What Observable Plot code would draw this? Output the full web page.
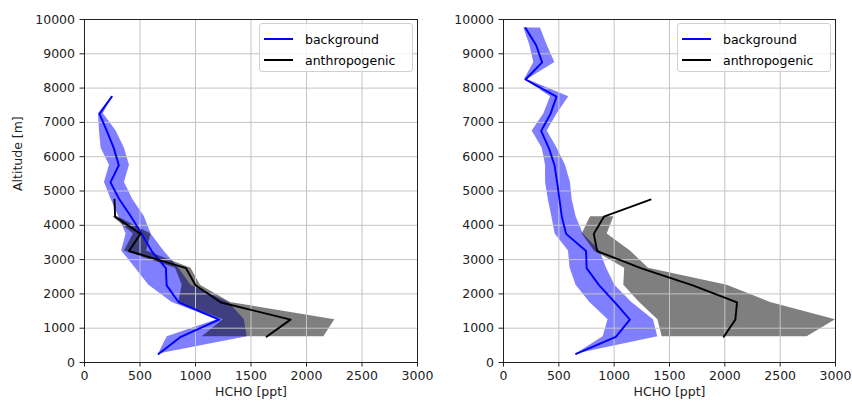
<!DOCTYPE html>
<html>
<head>
<meta charset="utf-8">
<script src="https://cdn.jsdelivr.net/npm/d3@7"></script>
<script src="https://cdn.jsdelivr.net/npm/@observablehq/plot@0.6"></script>
<style>
  body { margin: 0; background: #fff; }
  #chart { position: relative; width: 852px; height: 405px; font-family: "DejaVu Sans", sans-serif; }
  #chart > svg { position: absolute; top: 0; overflow: visible; }
  .legend { position: absolute; top: 23px; width: 154px; height: 49px; box-sizing: border-box;
            border: 1px solid #d0d0d0; border-radius: 3px; background: rgba(255,255,255,0.8);
            font-size: 12.5px; color: #000; }
  .legend .row { position: absolute; left: 4px; height: 16px; display: flex; align-items: center; white-space: nowrap; }
  .legend .swatch { width: 29px; height: 2px; margin-right: 12px; }
</style>
</head>
<body>
<div id="chart"></div>
<script>
// Altitude bins (m), centres of 500 m layers
const altBackgroundLeft = [250, 750, 1250, 1750, 2250, 2750, 3250, 3750, 4250, 4750, 5250, 5750, 6250, 6750, 7250, 7750];
const altBackgroundRight = [250, 750, 1250, 1750, 2250, 2750, 3250, 3750, 4250, 4750, 5250, 5750, 6250, 6750, 7250, 7750, 8250, 8750, 9250, 9750];
const altAnthro = [750, 1250, 1750, 2250, 2750, 3250, 3750, 4250, 4750];

// Left panel: HCHO (ppt)
const bgLeftMean = [667, 868, 1213, 850, 740, 733, 605, 515, 420, 315, 234, 309, 264, 201, 135, 246];
const bgLeftLow  = [667, 745, 1195, 790, 580, 460, 335, 375, 310, 240, 180, 225, 150, 135, 126, 246];
const bgLeftHigh = [667, 1466, 1440, 1300, 960, 850, 715, 600, 540, 435, 360, 405, 360, 285, 170, 246];
const anLeftMean = [1640, 1856, 1230, 1000, 915, 400, 505, 276, 270];
const anLeftLow  = [1060, 1250, 850, 880, 820, 360, 440, 255, null];
const anLeftHigh = [2156, 2255, 1315, 1045, 960, 560, 600, 300, null];

// Right panel: HCHO (ppt)
const bgRightMean = [656, 1015, 1142, 1006, 865, 751, 746, 566, 527, 506, 485, 461, 410, 340, 425, 479, 199, 349, 295, 199];
const bgRightLow  = [656, 900, 945, 781, 656, 602, 587, 467, 437, 405, 380, 380, 350, 259, 365, 425, 190, 274, 238, 184];
const bgRightHigh = [656, 1394, 1355, 1160, 1006, 931, 871, 721, 656, 620, 605, 560, 485, 395, 485, 590, 215, 464, 395, 334];
const anRightMean = [1990, 2095, 2110, 1710, 1240, 846, 816, 907, 1328];
const anRightLow  = [1434, 1395, 1230, 1087, 1095, 820, 711, 786, null];
const anRightHigh = [2744, 3000, 2413, 2021, 1310, 1147, 937, 997, null];

const xTicks = [0, 500, 1000, 1500, 2000, 2500, 3000];
const yTicks = [0, 1000, 2000, 3000, 4000, 5000, 6000, 7000, 8000, 9000, 10000];
const seriesNames = ["background", "anthropogenic"];
const seriesColors = ["#0000ff", "#000000"];

function rows(alt, mean, low, high) {
  return alt.map((a, i) => ({alt: a, mean: mean[i], low: low[i], high: high[i]}));
}

function panel({bg, an, marginLeft, marginRight, yLabel}) {
  const marks = [
    Plot.areaX(bg.filter(d => d.low != null), {y: "alt", x1: "low", x2: "high", fill: seriesColors[0], fillOpacity: 0.5}),
    Plot.areaX(an.filter(d => d.low != null), {y: "alt", x1: "low", x2: "high", fill: seriesColors[1], fillOpacity: 0.5}),
    Plot.gridX(xTicks, {stroke: "#c4c4c4", strokeOpacity: 1, strokeWidth: 1}),
    Plot.gridY(yTicks, {stroke: "#c4c4c4", strokeOpacity: 1, strokeWidth: 1}),
    Plot.line(bg, {x: "mean", y: "alt", stroke: seriesColors[0], strokeWidth: 1.9}),
    Plot.line(an, {x: "mean", y: "alt", stroke: seriesColors[1], strokeWidth: 1.9}),
    Plot.axisX(xTicks, {tickSize: 4.5, tickPadding: 4, tickFormat: "d", stroke: "#222", label: null}),
    Plot.axisY(yTicks, {tickSize: 4.5, tickPadding: 5, tickFormat: "d", stroke: "#222", label: null}),
    Plot.text(["HCHO [ppt]"], {frameAnchor: "bottom", dy: 33, fill: "#222"}),
    Plot.frame({stroke: "#222", strokeWidth: 1})
  ];
  if (yLabel) marks.push(Plot.text([yLabel], {frameAnchor: "left", dx: -67, rotate: -90, fill: "#222"}));
  return Plot.plot({
    width: 426,
    height: 405,
    marginLeft,
    marginRight,
    marginTop: 19,
    marginBottom: 43,
    x: {domain: [0, 3000]},
    y: {domain: [0, 10000]},
    style: {fontFamily: "DejaVu Sans, sans-serif", fontSize: "12.5px", color: "#222", background: "transparent", overflow: "visible"},
    marks
  });
}

const chart = document.getElementById("chart");

const left = panel({
  bg: rows(altBackgroundLeft, bgLeftMean, bgLeftLow, bgLeftHigh),
  an: rows(altAnthro, anLeftMean, anLeftLow, anLeftHigh),
  marginLeft: 84, marginRight: 9, yLabel: "Altitude [m]"
});
left.style.left = "0px";
chart.appendChild(left);

const right = panel({
  bg: rows(altBackgroundRight, bgRightMean, bgRightLow, bgRightHigh),
  an: rows(altAnthro, anRightMean, anRightLow, anRightHigh),
  marginLeft: 77, marginRight: 17, yLabel: null
});
right.style.left = "426px";
chart.appendChild(right);

// Legends in the upper-right corner of each panel
function legend(x) {
  const box = document.createElement("div");
  box.className = "legend";
  box.style.left = x + "px";
  seriesNames.forEach((name, i) => {
    const row = document.createElement("div");
    row.className = "row";
    row.style.top = (7 + i * 21) + "px";
    const sw = document.createElement("span");
    sw.className = "swatch";
    sw.style.background = seriesColors[i];
    row.appendChild(sw);
    row.appendChild(document.createTextNode(name));
    box.appendChild(row);
  });
  chart.appendChild(box);
}
legend(259);
legend(677);
</script>
</body>
</html>
